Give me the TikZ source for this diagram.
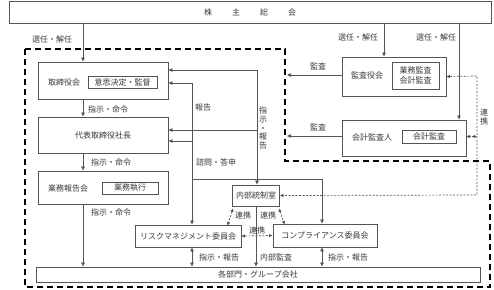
\documentclass[tikz,border=0pt]{standalone}
\usepackage{fontspec}
\setmainfont{Noto Sans CJK JP}
\usetikzlibrary{arrows.meta,positioning}
\definecolor{line}{RGB}{85,85,85}
\definecolor{ink}{RGB}{55,55,55}

\begin{document}
\begin{tikzpicture}[x=1pt,y=-1pt,font=\fontsize{8}{9}\selectfont,text=ink,
    box/.style={draw=line,line width=0.9pt,inner sep=0pt},
    tag/.style={draw=line,line width=0.8pt,inner sep=0pt,align=center,font=\fontsize{8}{9.5}\selectfont},
    lbl/.style={inner sep=0.5pt},
    vlbl/.style={inner sep=0.5pt,align=center,font=\fontsize{8}{8.6}\selectfont},
    arr/.style={draw=line,line width=0.7pt,-{Triangle[length=4pt,width=3.5pt]}},
    both/.style={draw=line,line width=0.7pt,{Triangle[length=4pt,width=3.5pt]}-{Triangle[length=4pt,width=3.5pt]}},
    link/.style={draw=line,line width=0.7pt,dash pattern=on 2pt off 1.5pt,{Triangle[length=3.5pt,width=3pt]}-{Triangle[length=3.5pt,width=3pt]}}]
    \useasboundingbox (0,0) rectangle (494,289);
    % scope of the board
    \draw[black,line width=1.4pt,dash pattern=on 6pt off 4pt] (25,49)--(285,49)--(285,161)--(490,161)--(490,287)--(25,287)--cycle;

    % boxes
    \node[box,minimum width=482,minimum height=22] (soukai) at (250,12){株\hspace{20pt}主\hspace{20pt}総\hspace{20pt}会};
    \node[box,minimum width=130,minimum height=37] (torishimari) at (103,80.5){};
    \node[lbl] at (64,82){取締役会};
    \node[tag,minimum width=69,minimum height=12] (ishi) at (122.5,82){意思決定・監督};
    \node[box,minimum width=130,minimum height=36] (daihyo) at (103,135){代表取締役社長};
    \node[box,minimum width=130,minimum height=33] (gyomu) at (103,187.5){};
    \node[lbl] at (68,188){業務報告会};
    \node[tag,minimum width=56,minimum height=12] (shikko) at (130,188){業務執行};
    \node[box,minimum width=444,minimum height=15] (kakubu) at (258,274.5){各部門・グループ会社};
    \node[box,minimum width=106,minimum height=22] (risk) at (188,236){リスクマネジメント委員会};
    \node[box,minimum width=104,minimum height=23] (comp) at (325,235.5){コンプライアンス委員会};
    \node[box,minimum width=47,minimum height=21] (naibu) at (256,195.5){内部統制室};
    \node[box,minimum width=104,minimum height=39] (kansayaku) at (394,76.5){};
    \node[lbl] at (367,75){監査役会};
    \node[tag,minimum width=47,minimum height=27] (gyokan) at (415.5,75.5){業務監査\\会計監査};
    \node[box,minimum width=124,minimum height=36] (kaikei) at (404,138){};
    \node[lbl] at (372,137){会計監査人};
    \node[tag,minimum width=54,minimum height=13] (kaikan) at (429,136.5){会計監査};

    % appointment and orders
    \draw[arr] (83,0 |- soukai.south) -- (83,0 |- torishimari.north);
    \draw[arr] (384,0 |- soukai.south) -- (384,0 |- kansayaku.north);
    \draw[arr] (459,0 |- soukai.south) -- (459,0 |- kaikei.north);
    \draw[arr] (83,0 |- torishimari.south) -- (83,0 |- daihyo.north);
    \draw[arr] (83,0 |- daihyo.south) -- (83,0 |- gyomu.north);
    \draw[arr] (83,0 |- gyomu.south) -- (83,0 |- kakubu.north);
    \node[lbl] at (52,39){選任・解任};
    \node[lbl] at (358,37){選任・解任};
    \node[lbl] at (436,37){選任・解任};
    \node[lbl] at (108,109){指示・命令};
    \node[lbl] at (111,162){指示・命令};
    \node[lbl] at (111,212){指示・命令};

    % audit
    \coordinate (kansa1) at (287,75);
    \coordinate (kansa2) at (287,136);
    \draw[arr] (kansayaku.west |- kansa1) -- (kansa1);
    \draw[arr] (kaikei.west |- kansa2) -- (kansa2);
    \node[lbl] at (318,66){監査};
    \node[lbl] at (318,127){監査};

    % internal control office
    \draw[both] (torishimari.east |- 0,70) -- (257,70) -- (257,0 |- naibu.north);
    \draw[arr] (257,130) -- (daihyo.east |- 0,130);
    \node[vlbl] at (263,128){指\\示\\・\\報\\告};
    \draw[arr] (256,0 |- naibu.south) -- (256,0 |- kakubu.north);
    \node[lbl] at (276,257){内部監査};

    % committees
    \draw[both] (torishimari.east |- 0,83) -- (192,83) -- (192,0 |- risk.north);
    \draw[arr] (192,141) -- (daihyo.east |- 0,141);
    \draw[arr] (192,179) -- (322,179) -- (322,0 |- comp.north);
    \node[lbl] at (203,107){報告};
    \node[lbl] at (216,162){諮問・答申};
    \draw[both] (192,0 |- risk.south) -- (192,0 |- kakubu.north);
    \draw[both] (322,0 |- comp.south) -- (322,0 |- kakubu.north);
    \node[lbl] at (219,257){指示・報告};
    \node[lbl] at (348,257){指示・報告};

    % cooperation
    \draw[link] (kansayaku.east) -- (477,76) -- (477,195) -- (naibu.east);
    \draw[link] (477,0 |- kaikan.east) -- (kaikei.east |- kaikan.east);
    \node[vlbl,font=\fontsize{8}{9}\selectfont] at (484,117){連\\携};
    \draw[link] ([xshift=1pt,yshift=-2pt]naibu.south west) -- ([xshift=-14pt,yshift=-1pt]risk.north east);
    \draw[link] ([xshift=-1pt,yshift=-2pt]naibu.south east) -- ([xshift=12pt,yshift=-1pt]comp.north west);
    \draw[link] (risk.east) -- (comp.west);
    \node[lbl] at (243,215){連携};
    \node[lbl] at (268,215){連携};
    \node[lbl] at (257,230){連携};
  \end{tikzpicture}
\end{document}
